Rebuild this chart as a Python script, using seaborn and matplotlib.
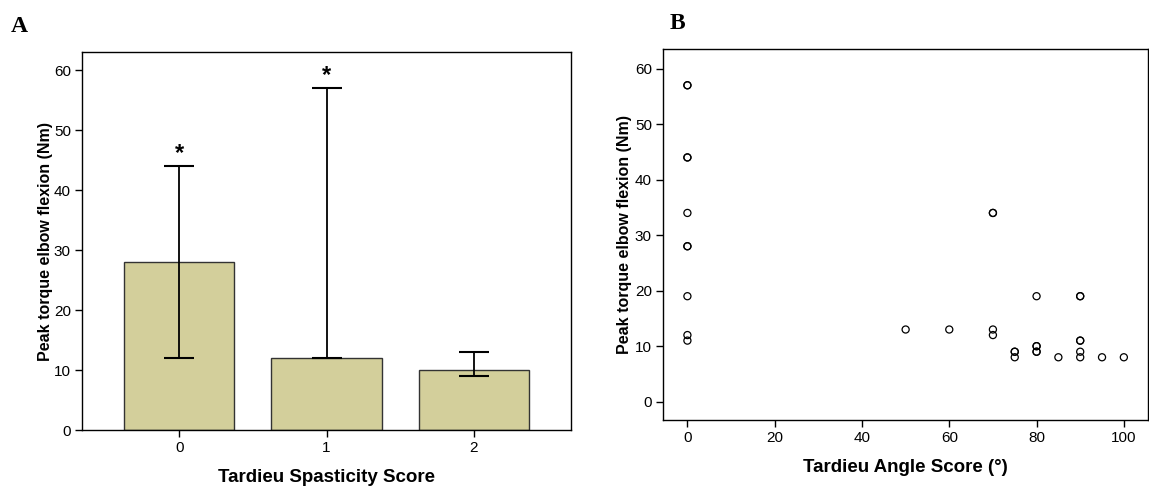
import matplotlib
matplotlib.use("Agg")
import matplotlib.pyplot as plt
import seaborn as sns
import pandas as pd
import numpy as np

# Panel A: peak torque by Tardieu spasticity score (median with range)
spasticity_scores = ["0", "1", "2"]
torque_median = [28, 12, 10]
torque_low = [12, 12, 9]
torque_high = [44, 57, 13]
significant = [True, True, False]

# Panel B: peak torque versus Tardieu angle score
angle_score = [0, 0, 0, 0, 0, 0, 0, 0, 0, 0,
               50, 60,
               70, 70, 70, 70,
               75, 75, 75,
               80, 80, 80, 80, 80,
               85,
               90, 90, 90, 90, 90, 90,
               95, 100]
peak_torque = [57, 57, 44, 44, 34, 28, 28, 19, 12, 11,
               13, 13,
               34, 34, 13, 12,
               9, 9, 8,
               19, 10, 10, 9, 9,
               8,
               19, 19, 11, 11, 9, 8,
               8, 8]

sns.set_style("white")
plt.rcParams["font.family"] = ["Liberation Sans", "DejaVu Sans"]
for key in ("text.color", "axes.labelcolor", "xtick.color", "ytick.color"):
    plt.rcParams[key] = "black"

fig = plt.figure(figsize=(11.49, 4.87), dpi=100)
axA = fig.add_axes([0.0714, 0.117, 0.4256, 0.776])
axB = fig.add_axes([0.577, 0.1376, 0.422, 0.7614])

bar_color = "#d3cf9b"

# ---- Panel A ----
dfA = pd.DataFrame({"score": spasticity_scores, "torque": torque_median})
sns.barplot(data=dfA, x="score", y="torque", ax=axA, color=bar_color,
            width=0.75, edgecolor="#333333", linewidth=1.0, saturation=1)
xpos = np.arange(len(spasticity_scores))
med = np.array(torque_median)
lo = med - np.array(torque_low)
hi = np.array(torque_high) - med
axA.errorbar(xpos, med, yerr=[lo, hi], fmt="none", ecolor="black",
             elinewidth=1.3, capsize=11, capthick=1.5)
for x, top, sig in zip(xpos, torque_high, significant):
    if sig:
        axA.text(x, top + 0.2, "*", ha="center", va="bottom",
                 fontsize=17, fontweight="bold")

axA.set_xlim(-0.66, 2.66)
axA.set_ylim(0, 63)
axA.set_yticks(range(0, 61, 10))
axA.set_xlabel("Tardieu Spasticity Score", fontsize=13.5, fontweight="bold",
               labelpad=10)
axA.set_ylabel("Peak torque elbow flexion (Nm)", fontsize=11.5,
               fontweight="bold", labelpad=1)

# ---- Panel B ----
dfB = pd.DataFrame({"angle": angle_score, "torque": peak_torque})
sns.scatterplot(data=dfB, x="angle", y="torque", ax=axB, marker="o", s=26,
                facecolor="none", edgecolor="black", linewidth=0.9)
axB.set_xlim(-5.6, 105.5)
axB.set_ylim(-3.3, 63.5)
axB.set_xticks(range(0, 101, 20))
axB.set_yticks(range(0, 61, 10))
axB.set_xlabel("Tardieu Angle Score (°)", fontsize=13.5, fontweight="bold",
               labelpad=10)
axB.set_ylabel("Peak torque elbow flexion (Nm)", fontsize=11.5,
               fontweight="bold", labelpad=2)

for ax in (axA, axB):
    for sp in ax.spines.values():
        sp.set_visible(True)
        sp.set_color("black")
        sp.set_linewidth(1.0)
    ax.tick_params(axis="both", which="major", direction="out", length=5,
                   width=1, color="black", labelcolor="black",
                   labelsize=11, pad=3, bottom=True, left=True)
    ax.grid(False)

fig.text(0.009, 0.935, "A", fontsize=17, fontweight="bold",
         family=["Liberation Serif", "DejaVu Serif"])
fig.text(0.583, 0.94, "B", fontsize=17, fontweight="bold",
         family=["Liberation Serif", "DejaVu Serif"])

fig.savefig("out.png", dpi=100)
